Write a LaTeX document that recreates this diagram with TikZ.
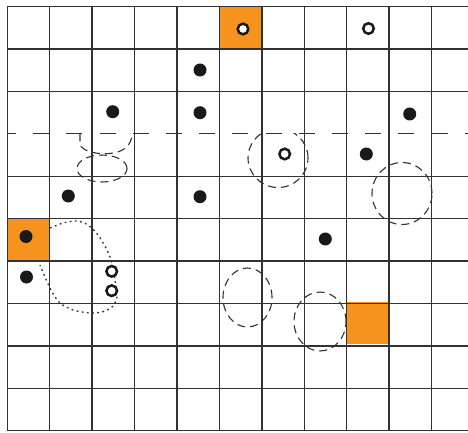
\documentclass[tikz,border=0pt]{standalone}
\usetikzlibrary{calc}
\definecolor{gridc}{RGB}{50,50,50}
\definecolor{orng}{RGB}{246,146,30}
\definecolor{dotc}{RGB}{25,25,25}
\tikzset{
  gridline/.style={draw=gridc,line width=1.4pt},
  bigdash/.style={draw=gridc,line width=1.4pt,dash pattern=on 16pt off 17.2pt,dash phase=7.3pt},
  zone/.style={draw=gridc,line width=1.1pt,dash pattern=on 8pt off 5pt},
  dotline/.style={draw=gridc,line width=1.3pt,dash pattern=on 1.8pt off 3.4pt},
  fdot/.style={circle,fill=dotc,inner sep=0pt,minimum size=13pt},
  ring/.style={circle,draw=dotc,fill=white,line width=2.5pt,inner sep=0pt,minimum size=10.6pt},
  cellfill/.style={fill=orng,draw=none}
}
\begin{document}
\begin{tikzpicture}[x=1pt,y=-1pt]
\useasboundingbox (0,0) rectangle (468,433);
\fill[white] (0,0) rectangle (468,433);
% orange cells
\fill[cellfill] (219.5,6.7) rectangle (262.0,48.1);
\fill[cellfill] (7.3,218.2) rectangle (49.7,260.2);
\fill[cellfill] (346.6,302.0) rectangle (389.0,344.4);
% grid
\foreach \i in {0,...,10} {
  \draw[gridline] ({7.3+42.42*\i},6.7) -- ({7.3+42.42*\i},430.7);
}
\foreach \j in {0,1,2,4,5,6,7,8,9,10} {
  \draw[gridline] (7.3,{6.7+42.4*\j}) -- (468,{6.7+42.4*\j});
}
% dashed boundary line
\draw[bigdash] (7.3,133.4) -- (468,133.4);
% pocket under the boundary
\draw[zone] (80,133.4) -- (80,145) .. controls (84,152) and (98,154.5) .. (110,153.5) .. controls (124,152) and (131,146) .. (132.5,133.4);
% small zone
\draw[zone] (102,168.5) ellipse [x radius=25pt, y radius=13.5pt];
% arc zone hanging from the boundary
\begin{scope}
  \clip (0,133.4) rectangle (468,433);
  \draw[zone] (278,158) ellipse [x radius=30pt, y radius=29.5pt];
\end{scope}
% other dashed zones
\draw[zone] (402,193.5) ellipse [x radius=30pt, y radius=31pt];
\draw[zone] (247.5,297.5) ellipse [x radius=24.5pt, y radius=29.5pt];
\draw[zone] (320,321.5) ellipse [x radius=26pt, y radius=29.5pt];
% dotted zone
\draw[dotline] plot[smooth] coordinates {(50,228) (63,223) (77,221) (88,225) (98,235) (107,250) (112,263) (115,280) (117,297) (112,307) (102,312) (90,313) (73,310) (60,303) (52,292) (45,277) (40,265)};
% filled dots
\node[fdot] (d1) at (200,70) {};
\node[fdot] (d2) at (112.7,111.7) {};
\node[fdot] (d3) at (200,112.7) {};
\node[fdot] (d4) at (68.3,196) {};
\node[fdot] (d5) at (200,196.7) {};
\node[fdot] (d6) at (409.7,114) {};
\node[fdot] (d7) at (366.3,154) {};
\node[fdot] (d8) at (26,236.5) {};
\node[fdot] (d9) at (26.5,277) {};
\node[fdot] (d10) at (325.3,239) {};
% rings
\node[ring] (r1) at (243,29) {};
\node[ring] (r2) at (368.5,28.5) {};
\node[ring] (r3) at (284.7,154) {};
\node[ring] (r4) at (111.7,271.3) {};
\node[ring] (r5) at (111.7,290.7) {};
\end{tikzpicture}
\end{document}
